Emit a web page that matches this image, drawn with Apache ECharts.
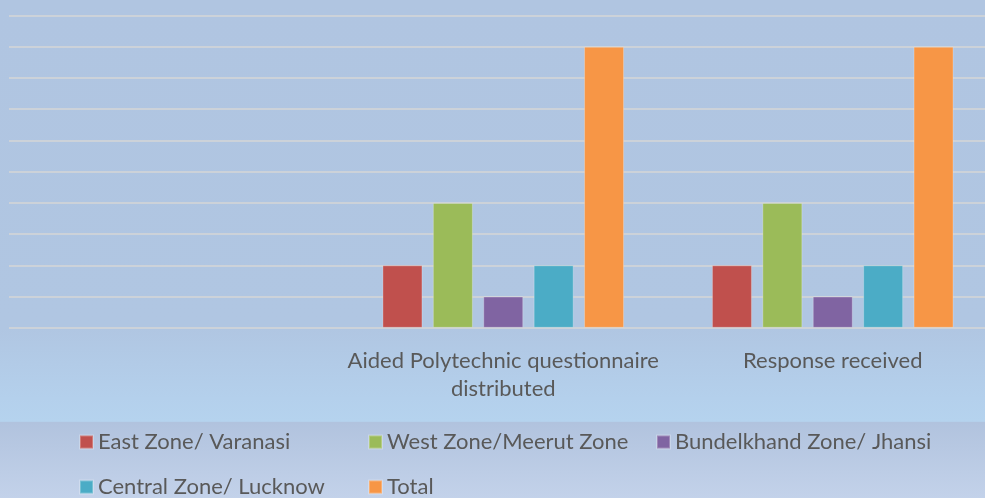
<!DOCTYPE html>
<html lang="en">
<head>
    <meta charset="UTF-8">
    <title>Polytechnic questionnaire</title>
    <style>
        html, body { margin: 0; padding: 0; }
        #chart { width: 985px; height: 498px; }
    </style>
</head>
<body>
    <div id="chart"></div>
    <script src="https://cdn.jsdelivr.net/npm/echarts@6/dist/echarts.min.js"></script>
    <script type="text/javascript">
        // categories along the x axis (the first one is empty in the original)
        var categories = ['', 'Aided Polytechnic questionnaire\ndistributed', 'Response received']

        // one array per zone
        var seriesNames = ['East Zone/ Varanasi', 'West Zone/Meerut Zone', 'Bundelkhand Zone/ Jhansi', 'Central Zone/ Lucknow', 'Total']
        var eastZone = [null, 2, 2]
        var westZone = [null, 4, 4]
        var bundelkhandZone = [null, 1, 1]
        var centralZone = [null, 2, 2]
        var totalValues = [null, 9, 9]

        var colors = ['#c0504d', '#9bbb59', '#8064a2', '#4bacc6', '#f79646']
        var values = [eastZone, westZone, bundelkhandZone, centralZone, totalValues]

        var font = 'Lato, "Open Sans", sans-serif'
        var textColor = '#595959'
        var fontSize = 22

        // legend laid out as a 3-column grid, one legend box per item
        var legendPos = [[79, 431], [368, 431], [656, 431], [79, 476], [368, 476]]

        var chart = echarts.init(document.getElementById('chart'))

        var series = values.map((v, i) => ({
            name: seriesNames[i],
            type: 'bar',
            data: v,
            barWidth: 40,
            barGap: '26%',
            itemStyle: { color: colors[i], borderColor: 'rgba(255,255,255,0.25)', borderWidth: 1 }
        }))

        var legends = seriesNames.map((n, i) => ({
            data: [n],
            left: legendPos[i][0],
            top: legendPos[i][1],
            padding: 0,
            itemWidth: 13,
            itemHeight: 13,
            itemGap: 6,
            icon: 'rect',
            selectedMode: false,
            textStyle: { color: textColor, fontSize: fontSize, fontFamily: font }
        }))

        var option = {
            animation: false,
            backgroundColor: {
                type: 'linear', x: 0, y: 0, x2: 0, y2: 1,
                colorStops: [
                    { offset: 0, color: '#b0c5e1' },
                    { offset: 0.66, color: '#b0c6e2' },
                    { offset: 0.8, color: '#b4d0ec' },
                    { offset: 0.846, color: '#b5d3ee' },
                    { offset: 0.848, color: '#b1c3de' },
                    { offset: 1, color: '#c3d2ea' }
                ]
            },
            color: colors,
            legend: legends,
            // the plot runs a little past the right edge of the picture
            grid: { left: 9, width: 988.5, top: 15.5, height: 312.3, containLabel: false, outerBoundsMode: 'none' },
            xAxis: {
                type: 'category',
                data: categories,
                axisLine: { show: false },
                axisTick: { show: false },
                axisLabel: {
                    color: textColor,
                    fontSize: fontSize,
                    fontFamily: font,
                    lineHeight: 28,
                    margin: 19.5,
                    interval: 0
                }
            },
            yAxis: {
                type: 'value',
                min: 0,
                max: 10,
                interval: 1,
                axisLabel: { show: false },
                axisLine: { show: false },
                axisTick: { show: false },
                splitLine: { lineStyle: { color: '#d6d6d6', width: 1.5 } }
            },
            series: series
        }
        chart.setOption(option)
    </script>
</body>
</html>
